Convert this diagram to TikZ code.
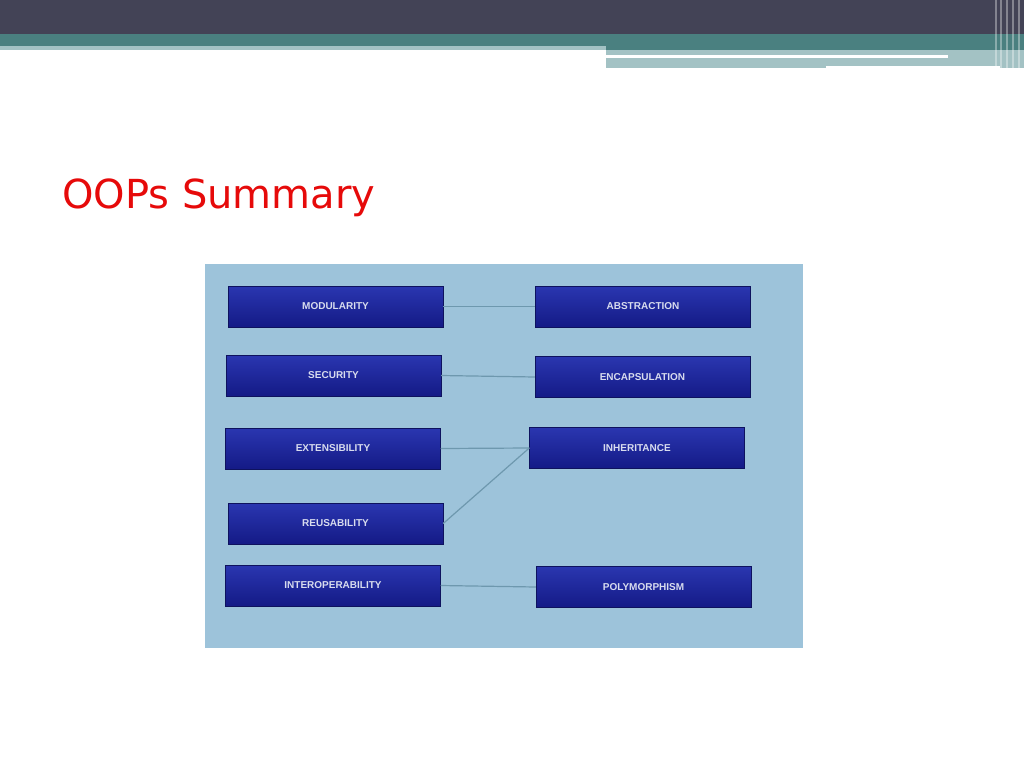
\documentclass[tikz,border=0pt]{standalone}
\usepackage{fontspec}
\setmainfont{Liberation Sans}
\newfontfamily\titlefont{DejaVu Sans}
\usetikzlibrary{positioning}
\definecolor{barDark}{HTML}{434356}
\definecolor{barTeal}{HTML}{4A8080}
\definecolor{barLight}{HTML}{A3C2C4}
\definecolor{panelBlue}{HTML}{9DC3DA}
\definecolor{boxTop}{HTML}{2A36B0}
\definecolor{boxBot}{HTML}{141A86}
\definecolor{boxText}{HTML}{D8DCEE}
\definecolor{linkGrey}{HTML}{6E98AE}
\tikzset{
    conceptbox/.style={draw=boxBot!70!black, top color=boxTop, bottom color=boxBot,
        minimum width=215pt, minimum height=41pt, inner sep=0pt,
        text=boxText, font=\fontsize{10}{12}\selectfont\bfseries},
    link/.style={draw=linkGrey, line width=1.2pt}
}
\begin{document}
\begin{tikzpicture}[x=1pt,y=-1pt]
    \useasboundingbox (0,0) rectangle (1024,768);
    % slide header bars
    \fill[barDark] (0,0) rectangle (1024,34);
    \fill[barTeal] (0,34) rectangle (1024,46);
    \fill[barLight] (0,46) rectangle (606,50);
    \fill[barTeal] (606,46) rectangle (1024,50);
    \fill[barLight] (606,50) rectangle (1024,68);
    \fill[white] (606,55) rectangle (948,58);
    \fill[white] (826,66) rectangle (1000,68);
    \foreach \x in {995,1000,1006,1012,1018}
        \fill[white,opacity=0.35] (\x,0) rectangle ++(2,68);
    % title
    \node[anchor=base west, inner sep=0pt, text={rgb,255:red,230;green,10;blue,10},
        font=\titlefont\fontsize{40}{48}\selectfont] (title) at (62,208) {OOPs Summary};
    % picture panel
    \fill[panelBlue] (205,264) rectangle (803,648);
    % left column
    \node[conceptbox] (modularity) at (335.5,306.5) {MODULARITY};
    \node[conceptbox] (security) at (333.5,375.5) {SECURITY};
    \node[conceptbox] (extensibility) at (333,448.5) {EXTENSIBILITY};
    \node[conceptbox] (reusability) at (335.5,523.5) {REUSABILITY};
    \node[conceptbox] (interop) at (333,585.5) {INTEROPERABILITY};
    % right column
    \node[conceptbox] (abstraction) at (643,306.5) {ABSTRACTION};
    \node[conceptbox] (encapsulation) at (642.5,377) {ENCAPSULATION};
    \node[conceptbox] (inheritance) at (637,448) {INHERITANCE};
    \node[conceptbox] (polymorphism) at (643.5,587) {POLYMORPHISM};
    % links
    \draw[link] (modularity.east) -- (abstraction.west);
    \draw[link] (security.east) -- (encapsulation.west);
    \draw[link] (extensibility.east) -- (inheritance.west);
    \draw[link] (reusability.east) -- (inheritance.west);
    \draw[link] (interop.east) -- (polymorphism.west);
\end{tikzpicture}
\end{document}
